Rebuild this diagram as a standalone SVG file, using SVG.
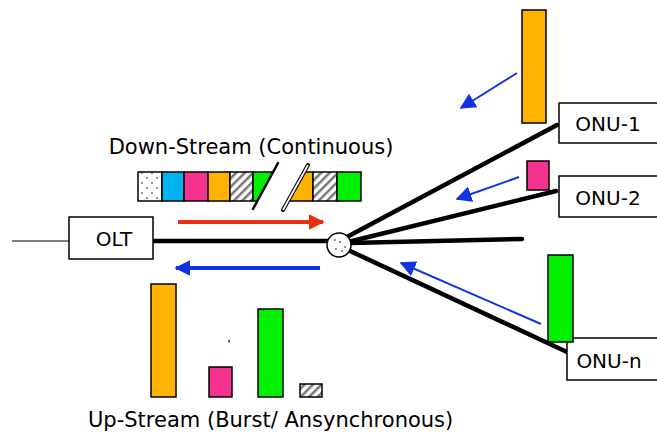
<svg xmlns="http://www.w3.org/2000/svg" width="657" height="437" viewBox="0 0 657 437">
<defs>
<style>
.lbl{font-family:"DejaVu Sans",Verdana,sans-serif;font-size:21px;fill:#000}
.nl{font-family:"DejaVu Sans",Verdana,sans-serif;font-size:20px;fill:#000;text-anchor:middle}
.box{fill:#fff;stroke:#000;stroke-width:1.5}
.fiber{stroke:#000;stroke-width:4.5;fill:none;stroke-linecap:round}
.frame{stroke:#000;stroke-width:1.5}
.blue{stroke:#1034E0;stroke-width:2;fill:none}
</style>
<pattern id="hatch" width="6" height="6" patternUnits="userSpaceOnUse" patternTransform="rotate(45)">
<rect width="6" height="6" fill="#fff"/>
<rect width="2.5" height="6" fill="#777"/>
</pattern>
<pattern id="dots" width="10" height="10" patternUnits="userSpaceOnUse">
<rect width="10" height="10" fill="#fff"/>
<circle cx="2" cy="3" r="0.9" fill="#666"/>
<circle cx="7" cy="8" r="0.9" fill="#666"/>
</pattern>
<marker id="ab2" viewBox="0 0 10 10" refX="9" refY="5" markerWidth="8" markerHeight="8" orient="auto" markerUnits="strokeWidth">
<path d="M0,0 L10,5 L0,10 z" fill="#1034E0"/>
</marker>
<marker id="ar" viewBox="0 0 10 10" refX="9" refY="5" markerWidth="4" markerHeight="4" orient="auto" markerUnits="strokeWidth">
<path d="M0,0 L10,5 L0,10 z" fill="#E8300E"/>
</marker>
<marker id="abw" viewBox="0 0 10 10" refX="9" refY="5" markerWidth="4" markerHeight="4" orient="auto" markerUnits="strokeWidth">
<path d="M0,0 L10,5 L0,10 z" fill="#1034E0"/>
</marker>
</defs>

<g id="connectors">
<line x1="12" y1="241" x2="69" y2="241" stroke="#000" stroke-width="1.2"/>
<line class="fiber" x1="153" y1="241" x2="330" y2="241"/>
<line class="fiber" x1="345" y1="238" x2="557" y2="125"/>
<line class="fiber" x1="348" y1="242" x2="556" y2="191"/>
<line class="fiber" x1="350" y1="243" x2="522" y2="239"/>
<line class="fiber" x1="348" y1="250" x2="567" y2="352"/>
<line x1="178" y1="222" x2="323" y2="222" stroke="#E8300E" stroke-width="4" marker-end="url(#ar)"/>
<line x1="320" y1="268" x2="176" y2="268" stroke="#1034E0" stroke-width="4" marker-end="url(#abw)"/>
<line class="blue" x1="517" y1="73" x2="461" y2="108" marker-end="url(#ab2)"/>
<line class="blue" x1="519" y1="177" x2="457" y2="199" marker-end="url(#ab2)"/>
<line class="blue" x1="541" y1="324" x2="401" y2="263" marker-end="url(#ab2)"/>
</g>

<g id="splitter">
<circle cx="339" cy="245" r="12" fill="#fff" stroke="#000" stroke-width="1.5"/>
<circle cx="335" cy="240" r="0.9" fill="#666"/>
<circle cx="340" cy="242" r="1" fill="#666"/>
<circle cx="345" cy="247" r="0.9" fill="#666"/>
<circle cx="336" cy="249" r="0.9" fill="#666"/>
<circle cx="342" cy="251" r="0.9" fill="#666"/>
</g>

<g id="olt">
<rect class="box" x="69" y="217" width="84" height="42"/>
<text class="nl" x="114" y="246">OLT</text>
</g>

<g id="onu-1">
<rect class="box" x="559" y="103" width="100" height="40"/>
<text class="nl" x="608" y="131">ONU-1</text>
</g>
<g id="onu-2">
<rect class="box" x="559" y="176" width="100" height="41"/>
<text class="nl" x="608" y="205">ONU-2</text>
</g>
<g id="onu-n">
<rect class="box" x="567" y="338" width="92" height="42"/>
<text class="nl" x="609" y="368">ONU-n</text>
</g>

<g id="onu-bursts">
<rect class="frame" x="522" y="10" width="24" height="113" fill="#FFB300"/>
<rect class="frame" x="527" y="161" width="22" height="29" fill="#F5338F"/>
<rect class="frame" x="548" y="255" width="25" height="87" fill="#00F000"/>
</g>

<g id="downstream">
<text class="lbl" x="251" y="154" text-anchor="middle">Down-Stream (Continuous)</text>
<rect class="frame" x="138" y="172" width="24" height="29" fill="url(#dots)"/>
<rect class="frame" x="162" y="172" width="22" height="29" fill="#00B4EE"/>
<rect class="frame" x="184" y="172" width="24" height="29" fill="#F5338F"/>
<rect class="frame" x="208" y="172" width="22" height="29" fill="#FFB300"/>
<rect class="frame" x="230" y="172" width="23" height="29" fill="url(#hatch)"/>
<rect class="frame" x="253" y="172" width="34" height="29" fill="#00F000"/>
<rect class="frame" x="287" y="172" width="26" height="29" fill="#FFB300"/>
<rect class="frame" x="313" y="172" width="24" height="29" fill="url(#hatch)"/>
<rect class="frame" x="337" y="172" width="24" height="29" fill="#00F000"/>
<polygon points="278,163 308,165 282,211 252,210" fill="#fff"/>
<line x1="278" y1="163" x2="253" y2="209" stroke="#000" stroke-width="2.5" stroke-linecap="round"/>
<line x1="308" y1="165" x2="283" y2="210" stroke="#000" stroke-width="4" stroke-linecap="round"/>
<line x1="308" y1="165" x2="283" y2="210" stroke="#fff" stroke-width="1.8"/>
</g>

<g id="upstream">
<rect class="frame" x="151" y="284" width="25" height="113" fill="#FFB300"/>
<rect class="frame" x="209" y="367" width="23" height="30" fill="#F5338F"/>
<rect class="frame" x="258" y="309" width="25" height="88" fill="#00F000"/>
<rect class="frame" x="300" y="384" width="22" height="13" fill="url(#hatch)"/>
<rect x="228.5" y="340" width="1.2" height="2.5" fill="#000"/>
<text class="lbl" x="88" y="427">Up-Stream (Burst/ Ansynchronous)</text>
</g>
</svg>
